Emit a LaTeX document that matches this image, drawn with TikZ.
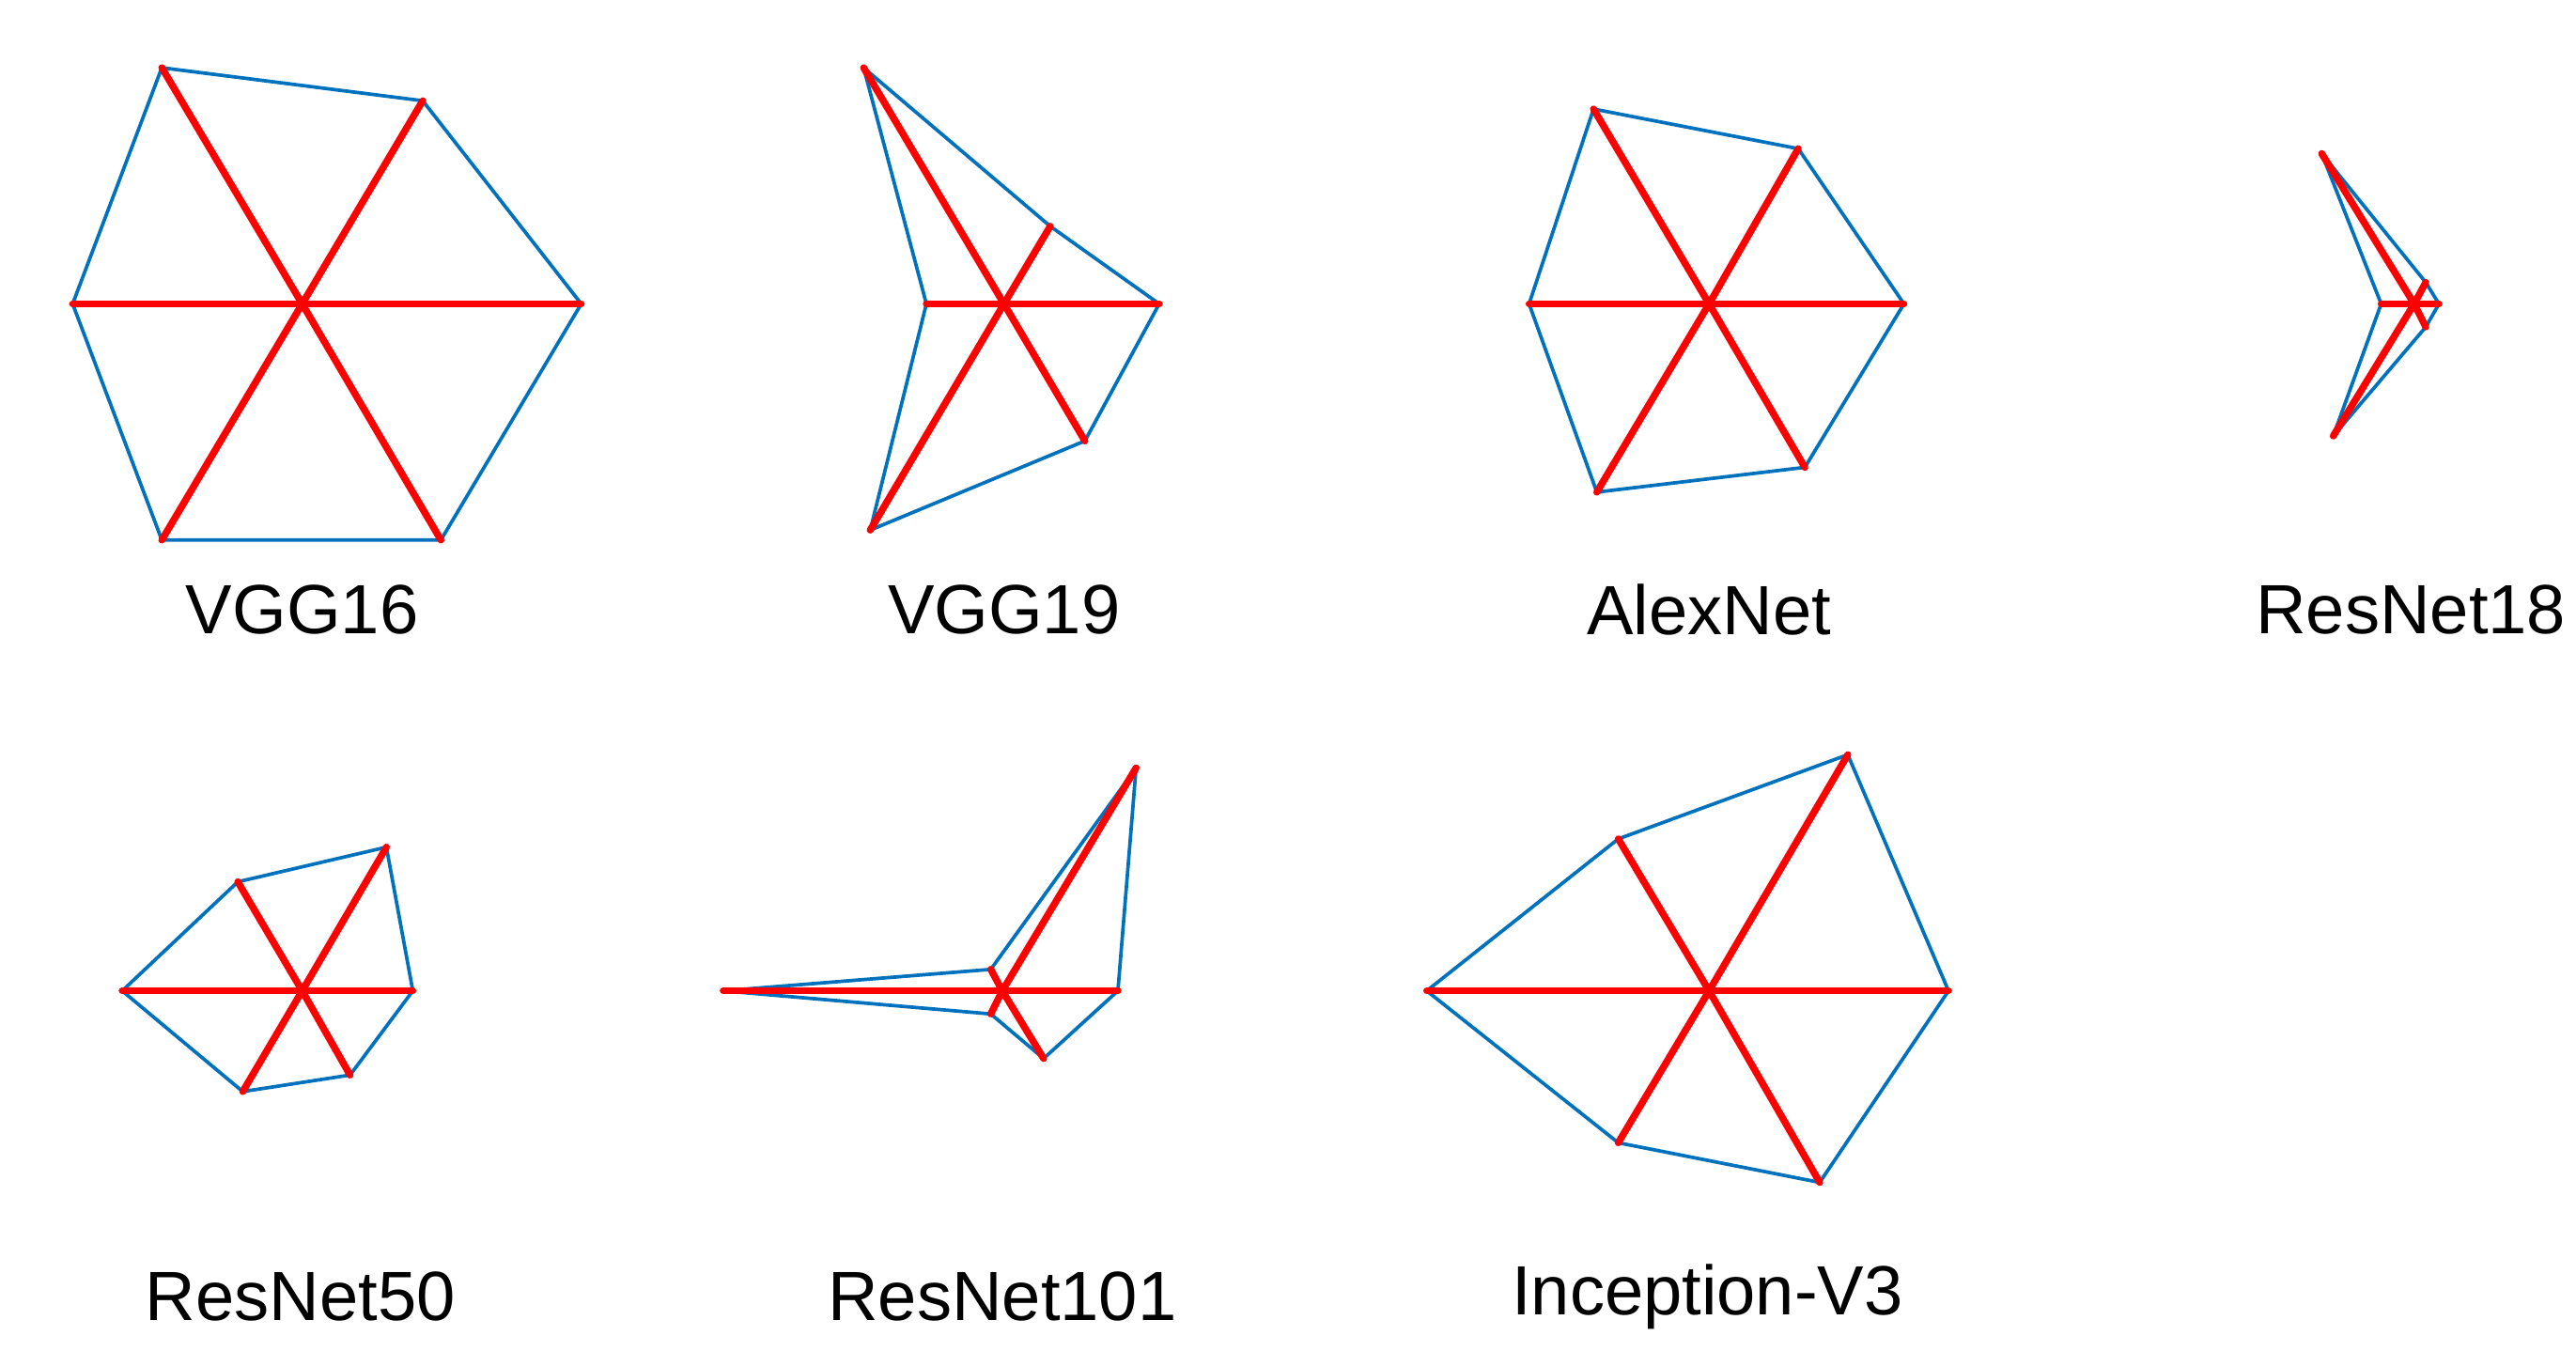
\documentclass[tikz,border=0pt]{standalone}
\usepackage{fontspec}
\setmainfont{Liberation Sans}
\definecolor{mblue}{RGB}{0,114,189}
\begin{document}
\begin{tikzpicture}[x=0.01cm,y=-0.01cm,
  edge/.style={mblue,line width=0.6pt,line join=round},
  spoke/.style={red,line width=1.2pt,line cap=round},
  lab/.style={font=\fontsize{12}{14}\selectfont,anchor=center}]
\useasboundingbox (0,0) rectangle (1560,817.6);
\newcommand\radar[9]{%
  \coordinate (#1c) at #2;
  \coordinate (#1a) at #3; \coordinate (#1b) at #4; \coordinate (#1d) at #5;
  \coordinate (#1e) at #6; \coordinate (#1f) at #7; \coordinate (#1g) at #8;
  \draw[edge] (#1a) -- (#1b) -- (#1d) -- (#1e) -- (#1f) -- (#1g) -- cycle;
  \foreach \v in {a,b,d,e,f,g} \draw[spoke] (#1c) -- (#1\v);
  \node[lab] (#1l) at #9 {#1};}
\radar{VGG16}{(183,184)}{(352,184)}{(256,61)}{(98,41)}{(44,184)}{(98,327)}{(267,327)}{(183,369)}
\radar{VGG19}{(608,184)}{(702,184)}{(636,137)}{(523,41)}{(561,184)}{(527,321)}{(657,267)}{(608,369)}
\radar{AlexNet}{(1035,184)}{(1153,184)}{(1089,90)}{(965,66)}{(926,184)}{(967,298)}{(1093,283)}{(1035,369)}
\radar{ResNet18}{(1462,184)}{(1477,184)}{(1469,171)}{(1406,93)}{(1442,184)}{(1413,264)}{(1469,198)}{(1460,369)}
\radar{ResNet50}{(183,600)}{(250,600)}{(234,513)}{(144,534)}{(74,600)}{(147,661)}{(212,651)}{(182,785)}
\radar{ResNet101}{(607,600)}{(677,600)}{(688,465)}{(600,587)}{(438,600)}{(600,614)}{(632,641)}{(607,785)}
\radar{Inception-V3}{(1035,600)}{(1180,600)}{(1119,457)}{(980,508)}{(864,600)}{(980,692)}{(1102,716)}{(1034,785)}
\end{tikzpicture}
\end{document}
